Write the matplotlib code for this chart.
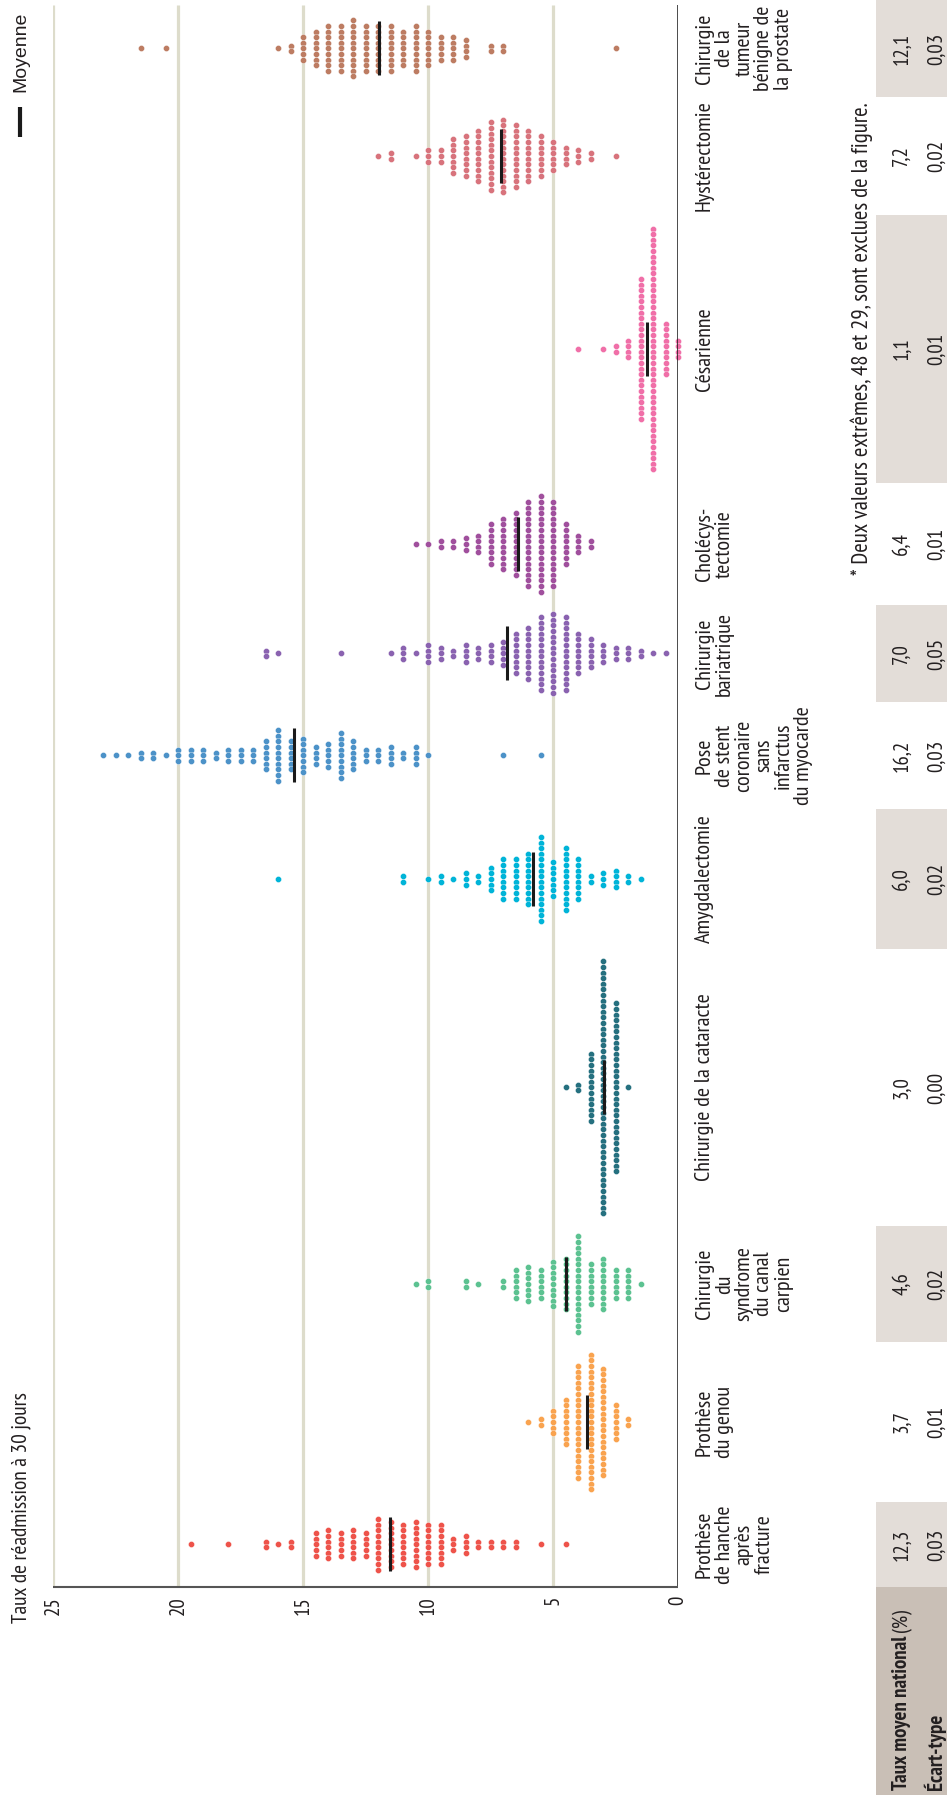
import numpy as np
import matplotlib.pyplot as plt

plt.rcParams['font.family'] = ['PT Sans Narrow', 'Fira Sans Condensed', 'Asap Condensed',
                               'Archivo Narrow', 'DejaVu Sans']

# interventions, listed from the bottom of the page to the top
categories = [
    "Prothèse\nde hanche\naprès\nfracture",
    "Prothèse\ndu genou",
    "Chirurgie\ndu\nsyndrome\ndu canal\ncarpien",
    "Chirurgie de la cataracte",
    "Amygdalectomie",
    "Pose\nde stent\ncoronaire\nsans\ninfarctus\ndu myocarde",
    "Chirurgie\nbariatrique",
    "Cholécys-\ntectomie",
    "Césarienne",
    "Hystérectomie",
    "Chirurgie\nde la\ntumeur\nbénigne de\nla prostate",
]
taux_moyen = ["12,3", "3,7", "4,6", "3,0", "6,0", "16,2", "7,0", "6,4", "1,1", "7,2", "12,1"]
ecart_type = ["0,03", "0,01", "0,02", "0,00", "0,02", "0,03", "0,05", "0,01", "0,01", "0,02", "0,03"]
moyennes = [11.54, 3.66, 4.47, 2.95, 5.79, 15.35, 6.84, 6.42, 1.23, 7.1, 11.96]

# hospital rates grouped by half point: (rate, number of hospitals)
hanche = [(19.5, 1), (18.0, 1), (16.5, 2), (16.0, 1), (15.5, 2), (14.5, 5), (14.0, 6), (13.5, 5),
          (13.0, 6), (12.5, 5), (12.0, 10), (11.5, 9), (11.0, 8), (10.5, 9), (10.0, 8), (9.5, 8),
          (9.0, 3), (8.5, 4), (8.0, 2), (7.5, 2), (7.0, 2), (6.5, 2), (5.5, 1), (4.5, 1)]
genou = [(6.0, 1), (5.5, 2), (5.0, 5), (4.5, 9), (4.0, 21), (3.5, 25), (3.0, 20), (2.5, 7), (2.0, 2)]
carpien = [(10.5, 1), (10.0, 2), (8.5, 2), (8.0, 1), (7.0, 2), (6.5, 6), (6.0, 7), (5.5, 6),
           (5.0, 9), (4.5, 10), (4.0, 18), (3.5, 8), (3.0, 10), (2.5, 6), (2.0, 6), (1.5, 1)]
cataracte = [(4.5, 1), (4.0, 2), (3.5, 13), (3.0, 46), (2.5, 31), (2.0, 1)]
amygdale = [(16.0, 1), (11.0, 2), (10.0, 1), (9.5, 2), (9.0, 1), (8.5, 3), (8.0, 2), (7.5, 5),
            (7.0, 8), (6.5, 8), (6.0, 10), (5.5, 16), (5.0, 7), (4.5, 12), (4.0, 8), (3.5, 2),
            (3.0, 3), (2.5, 4), (2.0, 2), (1.5, 1)]
stent = [(23.0, 1), (22.5, 1), (22.0, 1), (21.5, 2), (21.0, 2), (20.5, 1), (20.0, 3), (19.5, 3),
         (19.0, 3), (18.5, 2), (18.0, 3), (17.5, 3), (17.0, 3), (16.5, 6), (16.0, 10), (15.5, 6),
         (15.0, 7), (14.5, 4), (14.0, 5), (13.5, 9), (13.0, 6), (12.5, 3), (12.0, 3), (11.5, 4),
         (11.0, 2), (10.5, 4), (10.0, 1), (7.0, 1), (5.5, 1)]
bariatrique = [(16.5, 2), (16.0, 1), (13.5, 1), (11.5, 1), (11.0, 3), (10.5, 1), (10.0, 4), (9.5, 3),
               (9.0, 2), (8.5, 4), (8.0, 3), (7.5, 4), (7.0, 5), (6.5, 8), (6.0, 10), (5.5, 14),
               (5.0, 15), (4.5, 14), (4.0, 8), (3.5, 6), (3.0, 4), (2.5, 3), (2.0, 3), (1.5, 2),
               (1.0, 1), (0.5, 1)]
cholecystectomie = [(10.5, 1), (10.0, 1), (9.5, 2), (9.0, 2), (8.5, 3), (8.0, 4), (7.5, 8), (7.0, 10),
                    (6.5, 12), (6.0, 16), (5.5, 18), (5.0, 16), (4.5, 8), (4.0, 4), (3.5, 2)]
cesarienne = [(4.0, 1), (3.0, 1), (2.5, 2), (2.0, 4), (1.5, 26), (1.0, 44), (0.5, 10), (0.0, 4)]
hysterectomie = [(12.0, 1), (11.5, 2), (10.5, 1), (10.0, 3), (9.5, 3), (9.0, 7), (8.5, 8), (8.0, 10),
                 (7.5, 13), (7.0, 14), (6.5, 12), (6.0, 10), (5.5, 8), (5.0, 6), (4.5, 4), (4.0, 3),
                 (3.5, 2), (2.5, 1)]
prostate = [(21.5, 1), (20.5, 1), (16.0, 1), (15.5, 2), (15.0, 5), (14.5, 7), (14.0, 9), (13.5, 9),
            (13.0, 11), (12.5, 9), (12.0, 9), (11.5, 9), (11.0, 7), (10.5, 9), (10.0, 7), (9.5, 5),
            (9.0, 5), (8.5, 4), (7.5, 2), (7.0, 2), (2.5, 1)]

distributions = [hanche, genou, carpien, cataracte, amygdale, stent, bariatrique,
                 cholecystectomie, cesarienne, hysterectomie, prostate]
colors = ["#ee534a", "#f9a34f", "#5cc291", "#25707f", "#00b4d8", "#4c92c8",
          "#8a62b0", "#a04f9d", "#f06fa8", "#d8737c", "#bd7c62"]

# page layout, in pixels from the top of the page
W, H = 947, 1795
band_edges = [0, 97, 215, 483, 605, 702, 809, 949, 1226, 1342, 1502, 1587]
x25, x0 = 53, 678
pitch = 5.6
txt = "#231f20"

fig = plt.figure(figsize=(W / 100, H / 100), dpi=100)
ov = fig.add_axes([0, 0, 1, 1])
ov.set_xlim(0, W)
ov.set_ylim(H, 0)
ov.axis('off')

ax = fig.add_axes([x25 / W, (H - band_edges[-1]) / H, (x0 - x25) / W, (band_edges[-1] - 5) / H])
ax.set_xlim(25, 0)
ax.set_ylim(band_edges[-1], 5)
ax.axis('off')
ax.patch.set_alpha(0)

for g in [5, 10, 15, 20, 25]:
    ax.plot([g, g], [5, band_edges[-1]], color="#dddccb", lw=2.3, zorder=1, solid_capstyle='butt')
ax.plot([0, 0], [5, band_edges[-1]], color="#1a1a1a", lw=1.1, zorder=4, solid_capstyle='butt')
ax.plot([25, 0], [band_edges[-1], band_edges[-1]], color="#555555", lw=1.5, zorder=4,
        clip_on=False, solid_capstyle='butt')

n = len(categories)
for i in range(n):
    top = band_edges[n - 1 - i]
    bottom = band_edges[n - i]
    cy = (top + bottom) / 2
    for rate, count in distributions[i]:
        offs = (np.arange(count) - (count - 1) / 2) * pitch
        ax.scatter(np.full(count, rate), cy + offs, s=19, color=colors[i],
                   edgecolors='white', linewidths=0.25, zorder=3, clip_on=False)
    ax.plot([moyennes[i], moyennes[i]], [cy - 27, cy + 27], color="#1a1a1a", lw=2.2,
            zorder=5, solid_capstyle='butt')

    ov.text(695, cy, categories[i], rotation=90, ha='left', va='center',
            multialignment='center', fontsize=16, linespacing=1.05, color=txt)

    if i % 2 == 0:
        ov.add_patch(plt.Rectangle((876, top), W - 876, bottom - top, color="#e3ddd8", lw=0))
    ov.text(907, cy, taux_moyen[i], rotation=90, rotation_mode='anchor', ha='center',
            va='baseline', fontsize=15, color=txt)
    ov.text(942, cy, ecart_type[i], rotation=90, rotation_mode='anchor', ha='center',
            va='baseline', fontsize=15, color=txt)

# header cell of the table
ov.add_patch(plt.Rectangle((876, band_edges[-1]), W - 876, H - band_edges[-1], color="#c9bfb6", lw=0))
hdr = ov.text(907, 1790, "Taux moyen national", rotation=90, rotation_mode='anchor', ha='left',
              va='baseline', fontsize=15, fontweight='bold', color=txt)
ov.text(942, 1790, "Écart-type", rotation=90, rotation_mode='anchor', ha='left',
        va='baseline', fontsize=15, fontweight='bold', color=txt)
fig.canvas.draw()
bb = hdr.get_window_extent()
ov.text(907, H - bb.y1 - 4, "(%)", rotation=90, rotation_mode='anchor', ha='left',
        va='baseline', fontsize=15, color=txt)

# value axis labels
for g in [0, 5, 10, 15, 20, 25]:
    ov.text(x0 - g * (x0 - x25) / 25, 1596, str(g), rotation=90, ha='center', va='top',
            fontsize=15, color=txt)
ov.text(21, 1623, "Taux de réadmission à 30 jours", rotation=90, ha='center', va='bottom',
        fontsize=15.5, color=txt)

# legend
ov.plot([20, 20], [107, 137], color="#1a1a1a", lw=3, solid_capstyle='butt')
ov.text(21, 92, "Moyenne", rotation=90, ha='center', va='bottom', fontsize=14,
        family=['Liberation Sans', 'DejaVu Sans'], color=txt)

ov.text(862, 102, "* Deux valeurs extrêmes, 48 et 29, sont exclues de la figure.", rotation=90,
        ha='center', va='top', fontsize=16.5, color=txt)

fig.savefig("out.png", dpi=100)
